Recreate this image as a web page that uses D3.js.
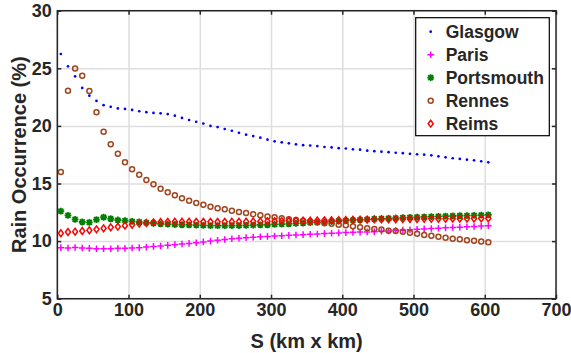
<html>
  <head>
	<title>Rain occurrence</title>
	<script src="https://cdn.jsdelivr.net/npm/d3@7/dist/d3.min.js" type="text/javascript" charset="utf-8"></script>
	<style>
	  body { margin: 0; background: #fff; }
	  text { font-family: "Liberation Sans", Arial, sans-serif; font-weight: bold; fill: #262626; }
	</style>
  </head>
  <body>
	<svg></svg>
  </body>
  <script type="text/javascript">
	var sizes = [5, 15, 25, 35, 45, 55, 65, 75, 85, 95,
	  105, 115, 125, 135, 145, 155, 165, 175, 185, 195,
	  205, 215, 225, 235, 245, 255, 265, 275, 285, 295,
	  305, 315, 325, 335, 345, 355, 365, 375, 385, 395,
	  405, 415, 425, 435, 445, 455, 465, 475, 485, 495,
	  505, 515, 525, 535, 545, 555, 565, 575, 585, 595, 605];
	var glasgow = [26.24, 25.17, 24.3, 23.3, 22.62, 22.17, 21.8, 21.66, 21.52, 21.47,
	  21.39, 21.27, 21.19, 21.13, 21.09, 21.03, 20.89, 20.69, 20.51, 20.36,
	  20.2, 20.0, 19.9, 19.73, 19.58, 19.4, 19.24, 19.12, 18.98, 18.8,
	  18.66, 18.57, 18.49, 18.4, 18.33, 18.3, 18.25, 18.17, 18.13, 18.07,
	  18.04, 17.97, 17.94, 17.85, 17.81, 17.76, 17.72, 17.67, 17.63, 17.58,
	  17.54, 17.5, 17.45, 17.36, 17.27, 17.19, 17.13, 17.07, 17.01, 16.93, 16.84];
	var paris = [9.43, 9.40, 9.45, 9.40, 9.37, 9.34, 9.34, 9.34, 9.37, 9.37,
	  9.40, 9.43, 9.48, 9.54, 9.57, 9.63, 9.69, 9.75, 9.80, 9.86,
	  9.93, 10.00, 10.07, 10.14, 10.20, 10.25, 10.30, 10.34, 10.38, 10.41,
	  10.44, 10.47, 10.50, 10.53, 10.56, 10.59, 10.62, 10.65, 10.68, 10.71,
	  10.74, 10.76, 10.78, 10.80, 10.82, 10.85, 10.88, 10.91, 10.95, 10.99,
	  11.03, 11.06, 11.09, 11.12, 11.15, 11.18, 11.21, 11.24, 11.27, 11.30, 11.33];
	var portsmouth = [12.61, 12.24, 11.89, 11.66, 11.63, 11.86, 12.07, 11.94, 11.83, 11.77,
	  11.72, 11.66, 11.60, 11.55, 11.50, 11.47, 11.44, 11.42, 11.40, 11.38,
	  11.36, 11.35, 11.35, 11.34, 11.34, 11.35, 11.36, 11.38, 11.40, 11.42,
	  11.45, 11.48, 11.50, 11.53, 11.56, 11.60, 11.63, 11.67, 11.70, 11.74,
	  11.78, 11.82, 11.85, 11.88, 11.92, 11.95, 11.98, 12.00, 12.03, 12.06,
	  12.08, 12.10, 12.12, 12.14, 12.16, 12.18, 12.20, 12.22, 12.24, 12.25, 12.27];
	var rennes = [16.0, 23.05, 24.98, 24.35, 23.04, 21.18, 19.49, 18.4, 17.59, 16.84,
	  16.23, 15.76, 15.3, 14.93, 14.54, 14.23, 13.97, 13.71, 13.5, 13.3,
	  13.16, 12.99, 12.85, 12.76, 12.64, 12.53, 12.44, 12.33, 12.24, 12.14,
	  12.07, 11.98, 11.9, 11.83, 11.76, 11.7, 11.63, 11.56, 11.5, 11.43,
	  11.37, 11.28, 11.2, 11.11, 11.05, 11.0, 10.9, 10.88, 10.82, 10.73,
	  10.64, 10.53, 10.47, 10.38, 10.3, 10.21, 10.16, 10.07, 10.02, 9.96, 9.9];
	var reims = [10.68, 10.79, 10.82, 10.88, 10.94, 11.02, 11.11, 11.2, 11.25, 11.34,
	  11.42, 11.51, 11.57, 11.63, 11.66, 11.67, 11.68, 11.68, 11.68, 11.67,
	  11.67, 11.67, 11.67, 11.67, 11.68, 11.68, 11.69, 11.70, 11.71, 11.72,
	  11.73, 11.74, 11.75, 11.76, 11.77, 11.78, 11.79, 11.80, 11.81, 11.82,
	  11.83, 11.85, 11.86, 11.87, 11.88, 11.89, 11.90, 11.90, 11.91, 11.92,
	  11.92, 11.93, 11.93, 11.94, 11.94, 11.95, 11.95, 11.96, 11.96, 11.97, 11.97];
	var xTicks = [0, 100, 200, 300, 400, 500, 600, 700];
	var yTicks = [5, 10, 15, 20, 25, 30];
	var cities = ['Glasgow', 'Paris', 'Portsmouth', 'Rennes', 'Reims'];

	(function() {
	  var width = 571, height = 353,
		  left = 57.3, right = 556, top = 10.7, bottom = 298.7,
		  w = right - left, h = bottom - top;

	  var svg = d3.select('svg')
				.attr('width', width)
				.attr('height', height),
		  canvas = svg.append('g').attr('transform', 'translate(' + left + ',' + top + ')');

	  var x = d3.scaleLinear().domain([0, 700]).range([0, w]),
		  y = d3.scaleLinear().domain([5, 30]).range([h, 0]);

	  // grid
	  canvas.append('g')
			.attr('class', 'grid')
			.attr('transform', 'translate(0,' + h + ')')
			.call(d3.axisBottom(x).tickValues(xTicks).tickSize(-h).tickFormat(''));
	  canvas.append('g')
			.attr('class', 'grid')
			.call(d3.axisLeft(y).tickValues(yTicks).tickSize(-w).tickFormat(''));
	  canvas.selectAll('.grid .domain').remove();
	  canvas.selectAll('.grid line')
			.attr('stroke', '#dedede')
			.attr('stroke-width', 1.5);

	  var series = [
		{name: cities[0], values: glasgow, color: '#0000ff', type: 'dot'},
		{name: cities[1], values: paris, color: '#ff00ff', type: 'plus'},
		{name: cities[2], values: portsmouth, color: '#008000', type: 'star'},
		{name: cities[3], values: rennes, color: '#a0461e', type: 'circle'},
		{name: cities[4], values: reims, color: '#ff0000', type: 'diamond'}
	  ];

	  var paths = {
		plus: 'M-3.3,0H3.3M0,-3.3V3.3',
		star: 'M-3.4,0H3.4M0,-3.4V3.4M-2.5,-2.5L2.5,2.5M-2.5,2.5L2.5,-2.5',
		diamond: 'M0,-3.4L2.5,0L0,3.4L-2.5,0Z'
	  };

	  function marker(sel, d) {
		if (d.type === 'dot') {
		  sel.append('circle').attr('r', 1.35).attr('fill', d.color);
		} else if (d.type === 'circle') {
		  sel.append('circle').attr('r', 2.5).attr('fill', 'none')
			 .attr('stroke', d.color).attr('stroke-width', 1.5);
		} else {
		  sel.append('path').attr('d', paths[d.type]).attr('fill', 'none')
			 .attr('stroke', d.color).attr('stroke-width', d.type === 'star' ? 1.8 : 1.5);
		}
	  }

	  series.forEach(function(s) {
		canvas.append('g')
			  .selectAll('g')
			  .data(sizes)
			  .enter()
			  .append('g')
			  .attr('transform', function(d, i) {
				return 'translate(' + x(d) + ',' + y(s.values[i]) + ')';
			  })
			  .each(function() { marker(d3.select(this), s); });
	  });

	  // box and ticks
	  canvas.append('rect')
			.attr('width', w)
			.attr('height', h)
			.attr('fill', 'none')
			.attr('stroke', '#262626')
			.attr('stroke-width', 1.5);

	  canvas.append('g')
			.attr('transform', 'translate(0,' + h + ')')
			.call(d3.axisBottom(x).tickValues(xTicks).tickSize(-4).tickPadding(5));
	  canvas.append('g')
			.call(d3.axisTop(x).tickValues(xTicks).tickSize(-4).tickFormat(''));
	  canvas.append('g')
			.call(d3.axisLeft(y).tickValues(yTicks).tickSize(-4).tickPadding(5.5));
	  canvas.append('g')
			.attr('transform', 'translate(' + w + ',0)')
			.call(d3.axisRight(y).tickValues(yTicks).tickSize(-4).tickFormat(''));
	  canvas.selectAll('.domain').remove();
	  canvas.selectAll('.tick line')
			.filter(function() { return d3.select(this.parentNode.parentNode).attr('class') !== 'grid'; })
			.attr('stroke', '#262626')
			.attr('stroke-width', 1.5);
	  canvas.selectAll('.tick text')
			.attr('font-family', '"Liberation Sans", Arial, sans-serif')
			.attr('font-weight', 'bold')
			.attr('font-size', 18)
			.attr('fill', '#262626');

	  // axis labels
	  svg.append('text')
		 .attr('x', left + w / 2)
		 .attr('y', 347.5)
		 .attr('text-anchor', 'middle')
		 .attr('font-size', 20)
		 .text('S (km x km)');
	  svg.append('text')
		 .attr('transform', 'translate(26,' + (top + h / 2) + ') rotate(-90)')
		 .attr('text-anchor', 'middle')
		 .attr('font-size', 20)
		 .text('Rain Occurrence (%)');

	  // legend
	  var legend = svg.append('g').attr('transform', 'translate(415.7,17.7)');
	  legend.append('rect')
			.attr('width', 133.6)
			.attr('height', 118)
			.attr('fill', '#fff')
			.attr('stroke', '#000')
			.attr('stroke-width', 1.2);
	  var items = legend.selectAll('.item')
			.data(series)
			.enter()
			.append('g')
			.attr('class', 'item')
			.attr('transform', function(d, i) {
			  return 'translate(0,' + (14 + i * 23) + ')';
			});
	  items.append('g')
		   .attr('transform', 'translate(15,0)')
		   .each(function(d) { marker(d3.select(this), d); });
	  items.append('text')
		   .attr('x', 30)
		   .attr('dy', '0.36em')
		   .attr('font-size', 17.5)
		   .attr('fill', '#000')
		   .text(function(d) { return d.name; });
	})();
  </script>
</html>
